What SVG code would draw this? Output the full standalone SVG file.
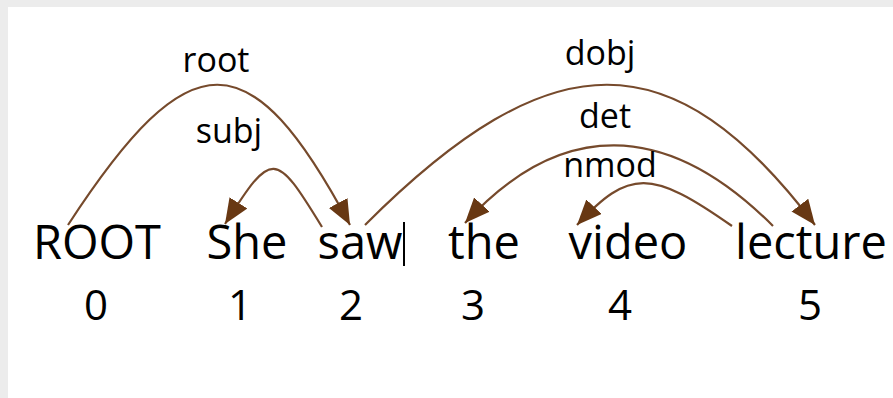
<svg xmlns="http://www.w3.org/2000/svg" width="893" height="398" viewBox="0 0 893 398">
  <style>
    .word { font-family: "Open Sans", "Noto Sans", sans-serif; font-size: 47px; fill: #000; text-anchor: middle; }
    .idx { font-family: "Open Sans", "Noto Sans", sans-serif; font-size: 42px; fill: #000; text-anchor: middle; }
    .rel { font-family: "Open Sans", "Noto Sans", sans-serif; font-size: 34px; fill: #000; text-anchor: middle; }
    .arc { fill: none; stroke: #764a2c; stroke-width: 2.2; marker-end: url(#head); }
  </style>
  <defs>
    <marker id="head" markerUnits="userSpaceOnUse" markerWidth="28" markerHeight="24" refX="25" refY="10.5" orient="auto">
      <path d="M0,0 L25,10.5 L0,21 Z" fill="#683813"/>
    </marker>
  </defs>

  <!-- backdrop -->
  <rect x="0" y="0" width="893" height="398" fill="#ececec"/>
  <rect x="8" y="7" width="885" height="391" fill="#ffffff"/>

  <!-- dependency arcs -->
  <g id="connectors">
    <path id="arc-root" class="arc" d="M68,225 C190,38 250,38 350,225"/>
    <path id="arc-subj" class="arc" d="M322,227 C275,150 272,150 225,224"/>
    <path id="arc-dobj" class="arc" d="M365,225 C552,38 673,38 815,225"/>
    <path id="arc-det" class="arc" d="M773,226 C666,119 560,119 465,223"/>
    <path id="arc-nmod" class="arc" d="M732,226 C651,169 629,169 577,225"/>
  </g>

  <!-- relation labels -->
  <g id="labels">
    <text class="rel" x="216" y="72">root</text>
    <text class="rel" x="229" y="143">subj</text>
    <text class="rel" x="600" y="65">dobj</text>
    <text class="rel" x="605" y="128">det</text>
    <text class="rel" x="610" y="177">nmod</text>
  </g>

  <!-- tokens -->
  <g id="tok0"><text class="word" x="97" y="259">ROOT</text><text class="idx" x="96" y="320">0</text></g>
  <g id="tok1"><text class="word" x="247" y="259">She</text><text class="idx" x="240" y="320">1</text></g>
  <g id="tok2"><text class="word" x="360" y="259">saw</text><text class="idx" x="351" y="320">2</text></g>
  <g id="tok3"><text class="word" x="484" y="259">the</text><text class="idx" x="473" y="320">3</text></g>
  <g id="tok4"><text class="word" x="628" y="259">video</text><text class="idx" x="620" y="320">4</text></g>
  <g id="tok5"><text class="word" x="811" y="259">lecture</text><text class="idx" x="810" y="320">5</text></g>

  <!-- text caret -->
  <rect id="caret" x="403" y="222" width="2" height="44" fill="#000"/>
</svg>
